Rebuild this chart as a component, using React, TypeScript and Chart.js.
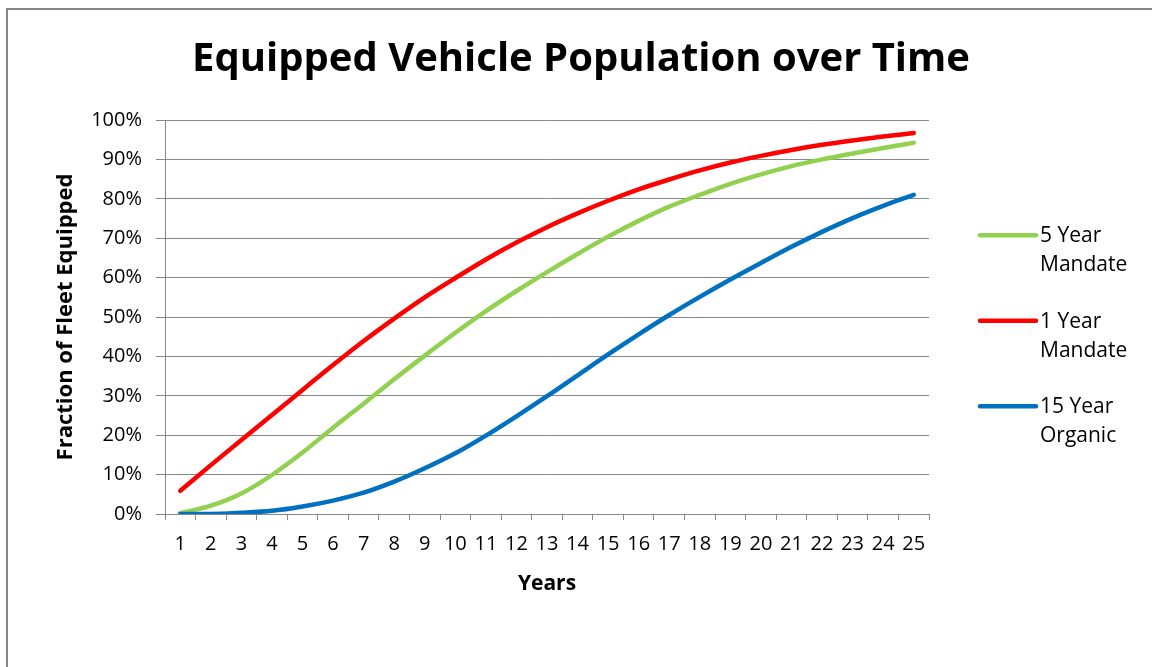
import React, { useEffect, useRef } from "react";
import { Chart, registerables } from "chart.js";

Chart.register(...registerables);

const TITLE = "Equipped Vehicle Population over Time";
const X_TITLE = "Years";
const Y_TITLE = "Fraction of Fleet Equipped";

const years = [
  "1", "2", "3", "4", "5", "6", "7", "8", "9", "10", "11", "12", "13",
  "14", "15", "16", "17", "18", "19", "20", "21", "22", "23", "24", "25",
];

const fiveYearMandate = [
  0.2, 2.1, 5.2, 9.9, 15.6, 21.9, 28.0, 34.2, 40.2, 46.0, 51.5, 56.6, 61.4,
  66.0, 70.4, 74.4, 78.0, 81.0, 83.8, 86.2, 88.3, 90.0, 91.5, 92.9, 94.2,
];

const oneYearMandate = [
  5.9, 12.4, 18.8, 25.1, 31.5, 37.8, 43.9, 49.6, 55.0, 59.9, 64.6, 68.9, 72.8,
  76.3, 79.5, 82.4, 84.9, 87.2, 89.2, 90.9, 92.4, 93.7, 94.8, 95.8, 96.7,
];

const fifteenYearOrganic = [
  0.0, 0.0, 0.3, 0.8, 1.9, 3.4, 5.4, 8.2, 11.6, 15.4, 19.9, 24.8, 29.9,
  35.2, 40.5, 45.6, 50.5, 55.1, 59.5, 63.7, 67.8, 71.6, 75.1, 78.2, 81.0,
];

const seriesNames = ["5 Year Mandate", "1 Year Mandate", "15 Year Organic"];
const seriesColors = ["#92D050", "#FF0000", "#0070C0"];

const FONT = "'Open Sans', sans-serif";
const GRID = "#878787";

const overlayPlugin = {
  id: "overlayTitleLegend",
  afterDraw(chart: any) {
    const ctx = chart.ctx as CanvasRenderingContext2D;
    const { right, top, bottom } = chart.chartArea;
    ctx.save();
    ctx.fillStyle = "#000";
    ctx.font = `bold 40px ${FONT}`;
    ctx.textAlign = "center";
    ctx.textBaseline = "alphabetic";
    ctx.fillText(TITLE, chart.width / 2 + 5, 71);

    const ds = chart.data.datasets;
    const midY = (top + bottom) / 2 + 3.7;
    const gap = 85.5;
    ds.forEach((d: any, i: number) => {
      const y = midY + (i - (ds.length - 1) / 2) * gap;
      const x0 = right + 51;
      ctx.strokeStyle = d.borderColor;
      ctx.lineWidth = 4.5;
      ctx.lineCap = "round";
      ctx.beginPath();
      ctx.moveTo(x0, y);
      ctx.lineTo(x0 + 56, y);
      ctx.stroke();
      const lines = String(d.label).split(/ (?=\S+$)/);
      ctx.fillStyle = "#000";
      ctx.font = `21px ${FONT}`;
      ctx.textAlign = "left";
      ctx.textBaseline = "alphabetic";
      lines.forEach((ln: string, k: number) => {
        ctx.fillText(ln, x0 + 60, y + 7 + k * 29);
      });
    });
    ctx.restore();
  },
};

export default function App() {
  const ref = useRef<HTMLCanvasElement | null>(null);

  useEffect(() => {
    if (!ref.current) return;
    const seriesData = [fiveYearMandate, oneYearMandate, fifteenYearOrganic];
    const chart = new Chart(ref.current, {
      type: "line",
      data: {
        labels: years,
        datasets: seriesNames.map((name, i) => ({
          label: name,
          data: seriesData[i],
          borderColor: seriesColors[i],
          backgroundColor: seriesColors[i],
          borderWidth: 4.5,
          pointRadius: 0,
          cubicInterpolationMode: "monotone",
          borderCapStyle: "round",
          borderJoinStyle: "round",
          fill: false,
          order: seriesNames.length - i,
        })),
      },
      options: {
        animation: false,
        responsive: false,
        maintainAspectRatio: false,
        layout: { padding: { left: 45, right: 223, top: 120, bottom: 40 } },
        plugins: {
          legend: { display: false },
          title: { display: false },
          tooltip: { enabled: false },
        },
        scales: {
          x: {
            type: "category",
            offset: true,
            grid: {
              display: true,
              drawOnChartArea: false,
              drawTicks: true,
              tickLength: 6,
              offset: true,
              color: GRID,
              lineWidth: 1,
            },
            border: { display: true, color: GRID, width: 1 },
            ticks: {
              color: "#000",
              font: { family: FONT, size: 20 },
              padding: 12,
              autoSkip: false,
              maxRotation: 0,
            },
            title: {
              display: true,
              text: X_TITLE,
              color: "#000",
              font: { family: FONT, size: 21, weight: "bold" },
              padding: { top: 0, bottom: 30 },
            },
            afterFit: (s: any) => {
              s.height = 113;
            },
          },
          y: {
            min: 0,
            max: 100,
            ticks: {
              stepSize: 10,
              callback: (v: any) => v + "%",
              color: "#000",
              font: { family: FONT, size: 20 },
              padding: 14,
            },
            grid: { color: GRID, tickLength: 9, drawTicks: true, lineWidth: 1 },
            border: { display: true, color: GRID, width: 1 },
            title: {
              display: true,
              text: Y_TITLE,
              color: "#000",
              font: { family: FONT, size: 22, weight: "bold" },
              padding: { top: 8, bottom: 0 },
            },
            afterFit: (s: any) => {
              s.width = 120;
            },
          },
        },
      } as any,
      plugins: [overlayPlugin],
    });
    return () => chart.destroy();
  }, []);

  return (
    <div
      style={{
        position: "fixed",
        left: 0,
        top: 0,
        width: 1152,
        height: 667,
        overflow: "hidden",
        background: "#fff",
      }}
    >
      <canvas
        ref={ref}
        width={1152}
        height={667}
        style={{ position: "absolute", left: 0, top: 0, width: 1152, height: 667, display: "block" }}
      />
      <div
        style={{
          position: "absolute",
          left: 6,
          top: 8,
          width: 1200,
          height: 700,
          border: "2px solid #878787",
          boxSizing: "border-box",
          pointerEvents: "none",
        }}
      />
    </div>
  );
}
